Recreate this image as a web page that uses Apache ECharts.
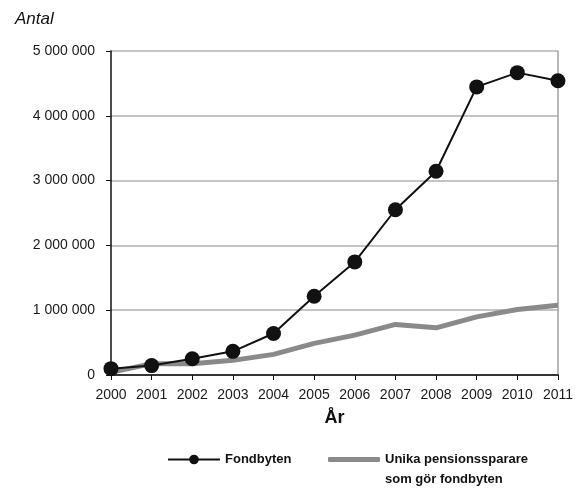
<!DOCTYPE html>
<html>
<head>
<meta charset="utf-8">
<script src="https://cdn.jsdelivr.net/npm/echarts@6/dist/echarts.min.js"></script>
<style>
html,body{margin:0;padding:0;background:#fff;}
#chart{width:576px;height:489px;}
</style>
</head>
<body>
<div id="chart"></div>
<script>
var years = ['2000','2001','2002','2003','2004','2005','2006','2007','2008','2009','2010','2011'];
var fondbyten = [98000, 145000, 250000, 365000, 640000, 1215000, 1745000, 2550000, 3145000, 4446000, 4666000, 4540000];
var unika = [40000, 175000, 175000, 226000, 318000, 488000, 615000, 780000, 728000, 897000, 1010000, 1077000];
var seriesNames = ['Fondbyten', 'Unika pensionssparare som gör fondbyten'];
var legendLines = ['Unika pensionssparare', 'som gör fondbyten'];
var yTitle = 'Antal';
var xTitle = 'År';

var narrow = '"Liberation Sans Narrow", "Liberation Sans", Arial, sans-serif';

function fmt(v){
  return String(v).replace(/\B(?=(\d{3})+(?!\d))/g, ' ');
}

var chart = echarts.init(document.getElementById('chart'), null, {renderer:'canvas'});
chart.setOption({
  animation: false,
  backgroundColor: '#fff',
  title: {
    text: yTitle, left: 10, top: 6,
    textStyle: {fontFamily: '"Liberation Sans", Arial, sans-serif', fontStyle: 'italic', fontWeight: 'normal', fontSize: 17, color: '#111'}
  },
  grid: {left: 111, right: 18, top: 51, bottom: 114, containLabel: false},
  legend: [{
    data: [seriesNames[0]], left: 167, top: 453, padding: 0, itemWidth: 52, itemHeight: 12,
    textStyle: {fontFamily: narrow, fontWeight: 'bold', fontSize: 13, color: '#111'}
  },{
    data: [{name: seriesNames[1], icon: 'roundRect'}], left: 328, top: 453, padding: 0, itemWidth: 52, itemHeight: 5,
    formatter: function(){ return legendLines[0]; },
    textStyle: {fontFamily: narrow, fontWeight: 'bold', fontSize: 13, color: '#111'}
  }],
  graphic: [{
    type: 'text', left: 385, top: 473,
    style: {text: legendLines[1], font: 'bold 13px ' + narrow, fill: '#111'}
  }],
  xAxis: [{
    type: 'category', data: years, boundaryGap: false,
    name: xTitle, nameLocation: 'middle', nameGap: 34,
    nameTextStyle: {fontFamily: narrow, fontWeight: 'bold', fontSize: 18, color: '#111'},
    axisLine: {lineStyle: {color: '#111', width: 1.5}},
    axisTick: {show: true, length: 5, interval: 0, lineStyle: {color: '#111'}},
    axisLabel: {margin: 13, interval: 0, fontFamily: narrow, fontSize: 14, color: '#1a1a1a'},
    splitLine: {show: false}
  },{
    type: 'category', data: years, boundaryGap: false, position: 'top',
    axisLine: {lineStyle: {color: '#333', width: 1.5}},
    axisTick: {show: false}, axisLabel: {show: false}, splitLine: {show: false}
  }],
  yAxis: [{
    type: 'value', min: 0, max: 5000000, interval: 1000000,
    axisLine: {show: true, lineStyle: {color: '#111', width: 1.5}},
    axisTick: {show: true, length: 5, lineStyle: {color: '#111'}},
    axisLabel: {margin: 16, fontFamily: narrow, fontSize: 14, color: '#1a1a1a', formatter: fmt},
    splitLine: {show: true, lineStyle: {color: '#c4c4c4', width: 2}}
  },{
    type: 'value', min: 0, max: 5000000, interval: 1000000, position: 'right',
    axisLine: {show: true, lineStyle: {color: '#a0a0a0', width: 1.5}},
    axisTick: {show: false}, axisLabel: {show: false}, splitLine: {show: false}
  }],
  series: [{
    name: seriesNames[1], type: 'line', data: unika, symbol: 'none',
    lineStyle: {color: '#8a8a8a', width: 5}, itemStyle: {color: '#8a8a8a'}, z: 2
  },{
    name: seriesNames[0], type: 'line', data: fondbyten, symbol: 'circle', symbolSize: 15,
    lineStyle: {color: '#111', width: 2}, itemStyle: {color: '#111'}, z: 3
  }]
});
</script>
</body>
</html>
